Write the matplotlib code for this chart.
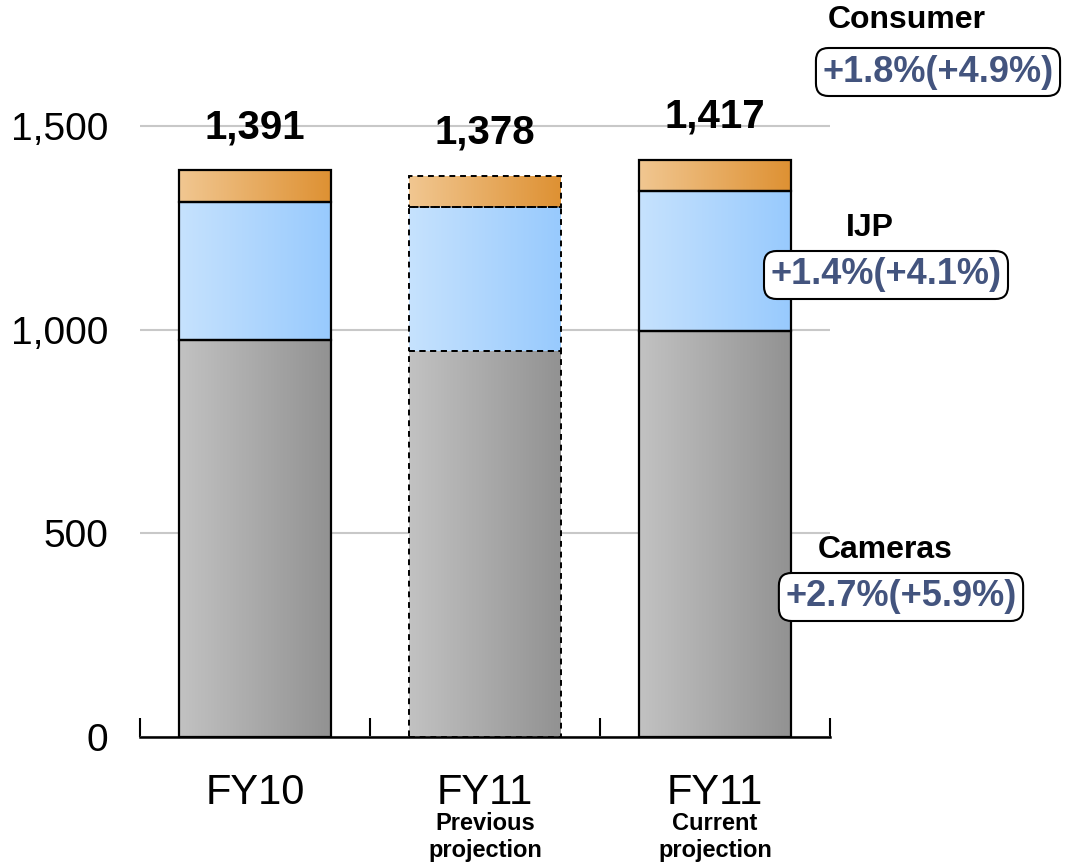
import numpy as np
import matplotlib
matplotlib.use("Agg")
import matplotlib.pyplot as plt
from matplotlib.colors import LinearSegmentedColormap

plt.rcParams['font.family'] = ['Liberation Sans', 'DejaVu Sans']

# data
categories = ['FY10', 'FY11', 'FY11']
sublabels = ['', 'Previous\nprojection', 'Current\nprojection']
cameras = [975, 948, 998]
ijp = [338, 353, 343]
consumer = [78, 77, 76]
totals = [1391, 1378, 1417]
seg_names = ['Cameras', 'IJP', 'Consumer']
seg_growth = ['+2.7%(+5.9%)', '+1.4%(+4.1%)', '+1.8%(+4.9%)']
yticks = [0, 500, 1000, 1500]

grad = {
    'Cameras': ('#C2C2C2', '#929292'),
    'IJP': ('#C6E2FE', '#98CAFD'),
    'Consumer': ('#F1C791', '#DE9133'),
}

W, H = 1067, 864
fig = plt.figure(figsize=(W / 100, H / 100), dpi=100)
ax = fig.add_axes([140 / W, (H - 737) / H, 690 / W, 672 / H])

x = np.arange(len(categories))
bw = 0.66
ramp = np.linspace(0, 1, 256).reshape(1, -1)

bottom = np.zeros(len(categories))
for name, vals in zip(seg_names, [cameras, ijp, consumer]):
    vals = np.array(vals, dtype=float)
    cmap = LinearSegmentedColormap.from_list(name, grad[name])
    bars = ax.bar(x, vals, bw, bottom=bottom, facecolor='none',
                  edgecolor='black', linewidth=1.6, zorder=3)
    for i, rect in enumerate(bars.patches):
        if i == 1:
            rect.set_linestyle((0, (3, 2.5)))
            rect.set_linewidth(1.4)
        x0 = rect.get_x()
        im = ax.imshow(ramp, cmap=cmap, aspect='auto', zorder=2,
                       extent=(x0, x0 + rect.get_width(), bottom[i], bottom[i] + vals[i]),
                       interpolation='bilinear')
        im.set_clip_path(rect)
    bottom += vals

# total labels
for i, t in enumerate(totals):
    ax.annotate(f'{t:,}', (x[i], bottom[i]), xytext=(0, 24), textcoords='offset pixels',
                ha='center', va='bottom', fontsize=29, fontweight='bold')

ax.set_xlim(-0.5, 2.5)
ax.set_ylim(0, 1650)
ax.set_yticks(yticks)
ax.set_yticklabels([f'{v:,}' for v in yticks], fontsize=28)
ax.tick_params(axis='y', length=0, pad=23)
ax.yaxis.grid(True, color='#C8C8C8', linewidth=1.5)
ax.set_axisbelow(True)

ax.set_xticks([-0.5, 0.5, 1.5, 2.5])
ax.set_xticklabels([])
ax.tick_params(axis='x', direction='in', length=14, width=1.5, color='black')
for s in ['top', 'right', 'left']:
    ax.spines[s].set_visible(False)
ax.spines['bottom'].set_linewidth(1.8)

for i, c in enumerate(categories):
    ax.annotate(c, (x[i], 0), xycoords=('data', 'axes fraction'), xytext=(0, -56),
                textcoords='offset pixels', ha='center', va='center', fontsize=30)
    if sublabels[i]:
        ax.annotate(sublabels[i], (x[i], 0), xycoords=('data', 'axes fraction'),
                    xytext=(0, -100), textcoords='offset pixels', ha='center',
                    va='center', fontsize=17, fontweight='bold', linespacing=1.25)

# segment growth labels on the right (pixel positions)
name_pos = [(885, 550), (870, 228), (907, 20)]
box_pos = [(901, 597), (886, 275), (938, 72)]
for name, g, (nx, ny), (bx, by) in zip(seg_names, seg_growth, name_pos, box_pos):
    fig.text(nx / W, 1 - ny / H, name, ha='center', va='center',
             fontsize=23, fontweight='bold')
    fig.text(bx / W, 1 - by / H, g, ha='center', va='center', fontsize=26,
             fontweight='bold', color='#43547E',
             bbox=dict(boxstyle='round,pad=0.18,rounding_size=0.35',
                       facecolor='white', edgecolor='black', linewidth=1.5))

fig.savefig('out.png', dpi=100)
